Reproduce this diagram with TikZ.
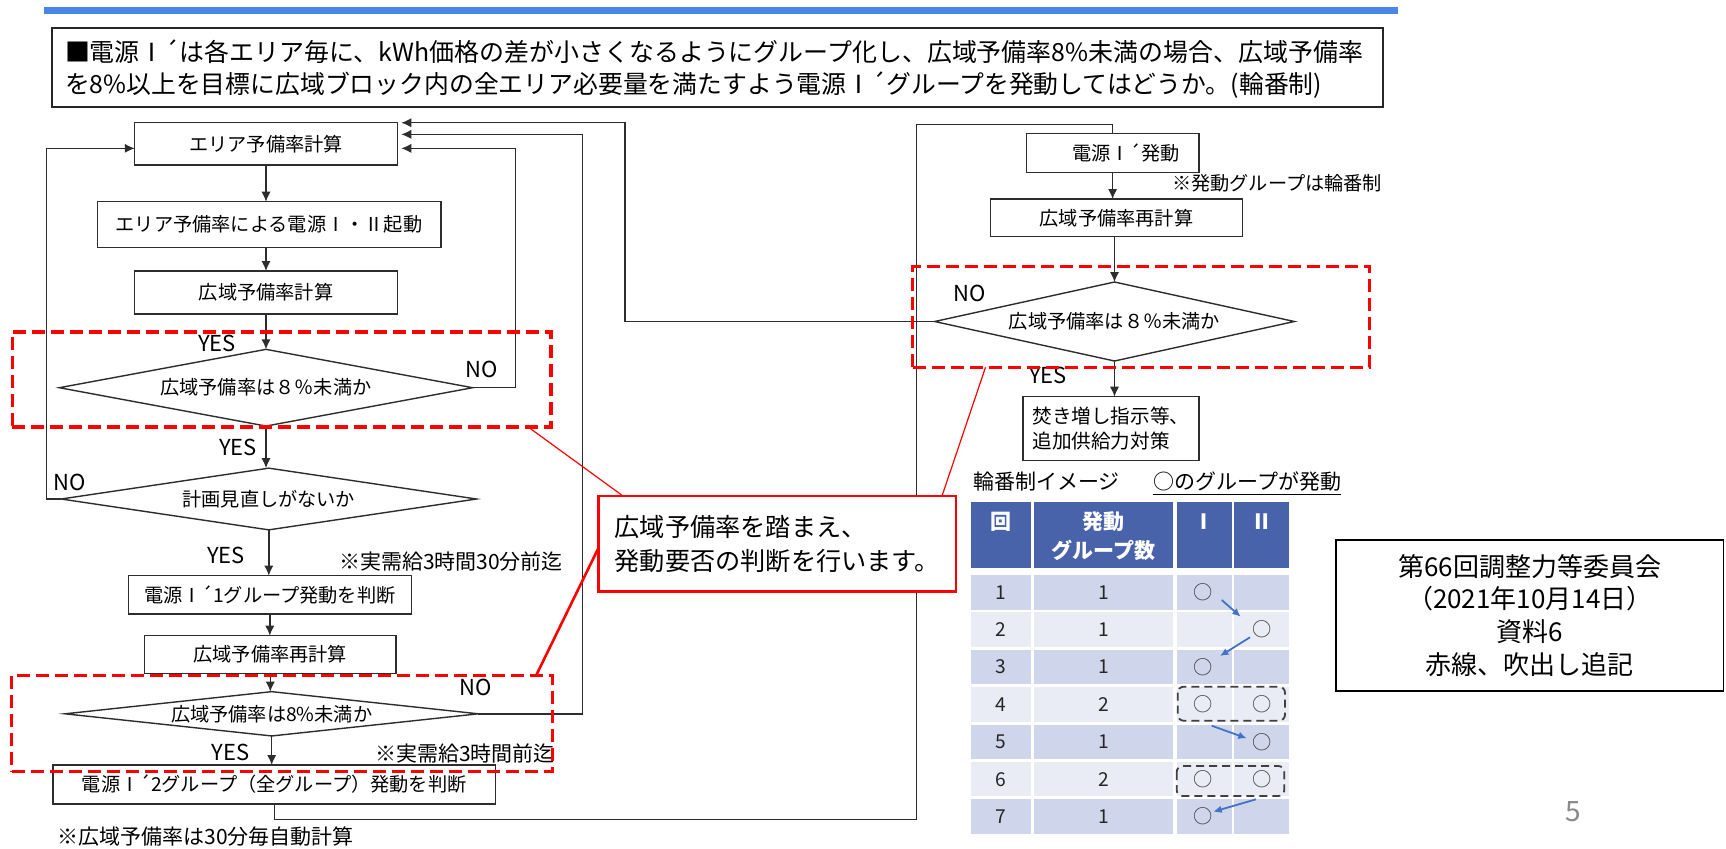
\documentclass[tikz,border=0pt]{standalone}
\usepackage{fontspec}
\usepackage{graphicx}
\setmainfont{Noto Sans CJK JP}
\usetikzlibrary{shapes.geometric,arrows.meta,calc}
\definecolor{barblue}{RGB}{74,134,232}
\definecolor{hdrblue}{RGB}{73,99,170}
\definecolor{rowdark}{RGB}{207,213,234}
\definecolor{rowlight}{RGB}{233,235,245}
\definecolor{arrblue}{RGB}{68,114,196}
\definecolor{linegray}{RGB}{45,45,45}
\definecolor{redline}{RGB}{255,0,0}
\definecolor{pagegray}{RGB}{137,137,137}
\newcommand\fTitle{\fontsize{12.5pt}{15pt}\selectfont}
\newcommand\fBox{\fontsize{9.6pt}{12pt}\selectfont}
\newcommand\fYN{\fontsize{11pt}{13pt}\selectfont}
\newcommand\fNote{\fontsize{10.5pt}{13pt}\selectfont}
\newcommand\fTbl{\fontsize{9.6pt}{12pt}\selectfont}
\newcommand\fHdr{\fontsize{10.5pt}{13pt}\selectfont\bfseries}
\newcommand\fCall{\fontsize{12.6pt}{16.85pt}\selectfont}
\newcommand\fInfo{\fontsize{13pt}{16.4pt}\selectfont}
\begin{document}
\begin{tikzpicture}[x=0.5pt,y=-0.5pt,
  every node/.style={inner sep=0pt, outer sep=0pt},
  wh/.style 2 args={minimum width=#1*0.5pt, minimum height=#2*0.5pt},
  fbox/.style={draw=linegray, line width=0.7pt, rectangle, font=\fBox},
  dia/.style={draw=linegray, line width=0.7pt, diamond, font=\fBox},
  flow/.style={draw=linegray, line width=0.7pt},
  arr/.style={flow, -{Latex[length=5pt,width=4.6pt]}},
  yn/.style={font=\fYN},
  note/.style={anchor=west, font=\fNote},
  reddash/.style={draw=redline, line width=1.6pt, dash pattern=on 6.5pt off 3pt},
  redthin/.style={draw=redline, line width=0.6pt},
  redthick/.style={draw=redline, line width=1.3pt},
  num/.style={font=\fTbl, text=black!85},
  circ/.style={font=\fTbl, text=black!75},
  hdr/.style={font=\fHdr, text=white},
  barr/.style={draw=arrblue, line width=0.9pt, -{Latex[length=4.2pt,width=3.8pt]}},
  grp/.style={draw=black!75, line width=0.9pt, dash pattern=on 4pt off 2.5pt, rounded corners=3pt}
]
\useasboundingbox (0,0) rectangle (1726,848);
\fill[white] (0,0) rectangle (1726,848);

% top bar and title
\fill[barblue] (44,6.5) rectangle (1398,14);
\node[draw=black!85, line width=1pt, wh={1331.3}{79}] (titlebox) at (717.35,67.8) {};
\node[anchor=west, font=\fTitle] (t1) at (65,51.7) {\resizebox{649pt}{\height}{■電源Ⅰ´は各エリア毎に、kWh価格の差が小さくなるようにグループ化し、広域予備率8\%未満の場合、広域予備率}};
\node[anchor=west, font=\fTitle] (t2) at (65,85) {\resizebox{628.5pt}{\height}{を8\%以上を目標に広域ブロック内の全エリア必要量を満たすよう電源Ⅰ´グループを発動してはどうか。(輪番制)}};

% left flowchart
\node[fbox, wh={262.5}{42.7}] (A) at (266,143.7) {エリア予備率計算};
\node[fbox, wh={343.6}{46}] (B) at (269,224.7) {エリア予備率による電源Ⅰ・Ⅱ起動};
\node[fbox, wh={262.5}{43}] (C) at (266,292.5) {広域予備率計算};
\node[dia, wh={413.3}{76.7}, aspect=5.39] (D1) at (266,387.7) {広域予備率は８％未満か};
\node[dia, wh={415.3}{61.7}, aspect=6.73] (D2) at (268.8,499) {計画見直しがないか};
\node[fbox, wh={283.2}{38.3}] (E1) at (269.8,594.8) {電源Ⅰ´1グループ発動を判断};
\node[fbox, wh={251.3}{37.6}] (F) at (270.3,654.5) {広域予備率再計算};
\node[dia, wh={413.4}{44.3}, aspect=9.33] (D3) at (271.7,713.8) {広域予備率は8\%未満か};
\node[fbox, wh={442.8}{39}] (E2) at (274.2,784.5) {電源Ⅰ´2グループ（全グループ）発動を判断};

% right flowchart
\node[fbox, wh={172.5}{39}] (G) at (1112.65,152.8) {\hspace*{13.4pt}電源Ⅰ´発動};
\node[fbox, wh={251.5}{37.7}] (H) at (1116.5,217.9) {広域予備率再計算};
\node[dia, wh={359.7}{79}, aspect=4.55] (D4) at (1114.5,321.5) {広域予備率は８％未満か};
\node[fbox, wh={176}{64}, align=left, font=\fontsize{9.8pt}{12.5pt}\selectfont] (I) at (1110.9,428.7) {焚き増し指示等、\\追加供給力対策};

% vertical arrows
\draw[arr] (A.south) -- (A.south |- B.north);
\draw[arr] (B.south -| A.south) -- (A.south |- C.north);
\draw[arr] (C.south) -- (D1.north);
\draw[arr] (D1.south) -- (D1.south |- D2.north);
\draw[arr] (D2.south) -- (D2.south |- E1.north);
\draw[arr] (E1.south) -- (E1.south |- F.north);
\draw[arr] (F.south) -- (F.south |- D3.north);
\draw[arr] (D3.south) -- (D3.south |- E2.north);
\draw[arr] (G.south) -- (G.south |- H.north);
\draw[arr] (D4.north |- H.south) -- (D4.north);
\draw[arr] (D4.south) -- (D4.south |- I.north);

% loop connectors
\coordinate (Ain1) at ($(A.north east)+(4,0.4)$);
\coordinate (Ain2) at ($(A.north east)+(4,12)$);
\coordinate (Ain3) at ($(A.north east)+(4,26)$);
\coordinate (Ainl) at ($(A.north west)+(0,26)$);
\draw[arr] (D2.west) -- ++(-14.5,0) |- (Ainl);
\draw[arr] (D1.east) -- ++(42.9,0) |- (Ain3);
\draw[arr] (D3.east) -- ++(104,0) |- (Ain2);
\draw[arr] (D4.west) -- ++(-309.6,0) |- (Ain1);
\coordinate (loopTR) at (916.7,124.3);
\draw[flow] (E2.south) -- ++(0,15.5) -| (loopTR) -| (G.north);

% labels
\node[yn] (y1) at (217,343.4) {YES};
\node[yn] (n1) at (482,369) {NO};
\node[yn] (y2) at (238,447) {YES};
\node[yn] (n2) at (70,482) {NO};
\node[yn] (y3) at (226,555) {YES};
\node[yn] (n3) at (476,687.6) {NO};
\node[yn] (y4) at (230.6,752.5) {YES};
\node[yn] (n4) at (970,293) {NO};
\node[yn] (y5) at (1048,375) {YES};
\node[note] (note1) at (339,562) {※実需給3時間30分前迄};
\node[note] (note2) at (375,753) {※実需給3時間前迄};
\node[note] (note3) at (57.4,837) {※広域予備率は30分毎自動計算};
\node[note, font=\fBox] (note4) at (1172,183.5) {※発動グループは輪番制};

% table
\node[anchor=west, font=\fNote] (tbl1) at (973.3,481.7) {輪番制イメージ};
\node[anchor=west, font=\fNote] (tbl2) at (1153.3,481.7) {○のグループが発動};
\draw[line width=0.6pt] ($(tbl2.south west)+(0,3)$) -- ($(tbl2.south east)+(0,3)$);
\fill[hdrblue] (970.7,501.7) rectangle (1031,568.3);
\fill[hdrblue] (1034,501.7) rectangle (1173.3,568.3);
\fill[hdrblue] (1176.7,501.7) rectangle (1231.7,568.3);
\fill[hdrblue] (1234.3,501.7) rectangle (1289.3,568.3);
\node[hdr] (h1) at (1000.8,521.7) {回};
\node[hdr] (h2a) at (1103.7,521.7) {発動};
\node[hdr] (h2b) at (1103.7,550) {グループ数};
\node[hdr] (h3) at (1204.2,521.7) {Ⅰ};
\node[hdr] (h4) at (1261.8,521.7) {Ⅱ};
\foreach \i/\g in {1/1,2/1,3/1,4/2,5/1,6/2,7/1} {
  \pgfmathsetmacro{\rt}{575+37.38*(\i-1)}
  \pgfmathsetmacro{\rb}{\rt+34.5}
  \pgfmathsetmacro{\rc}{\rt+17.25}
  \ifodd\i \def\rowcol{rowdark}\else\def\rowcol{rowlight}\fi
  \fill[\rowcol] (970.7,\rt) rectangle (1031,\rb);
  \fill[\rowcol] (1034,\rt) rectangle (1173.3,\rb);
  \fill[\rowcol] (1176.7,\rt) rectangle (1231.7,\rb);
  \fill[\rowcol] (1234.3,\rt) rectangle (1289.3,\rb);
  \node[num] (rn\i) at (1000.8,\rc) {\i};
  \node[num] (rg\i) at (1103.7,\rc) {\g};
}
\node[circ] (c1) at (1203.3,592.25) {○};
\node[circ] (c2) at (1261.7,629.63) {○};
\node[circ] (c3) at (1203.3,667.01) {○};
\node[circ] (c4a) at (1203.3,704.39) {○};
\node[circ] (c4b) at (1261.7,704.39) {○};
\node[circ] (c5) at (1261.7,741.77) {○};
\node[circ] (c6a) at (1203.3,779.15) {○};
\node[circ] (c6b) at (1261.7,779.15) {○};
\node[circ] (c7) at (1203.3,816.53) {○};
\draw[grp] (1177.7,686.7) rectangle (1285,720.7);
\draw[grp] (1176.7,766) rectangle (1284.3,796);
\coordinate (ba1) at (1221.7,600); \coordinate (bb1) at (1240.7,616.7);
\coordinate (ba2) at (1250,637.3); \coordinate (bb2) at (1220,656);
\coordinate (ba3) at (1211.7,725.7); \coordinate (bb3) at (1246.7,738.3);
\coordinate (ba4) at (1256,799.3); \coordinate (bb4) at (1213.3,811.7);
\draw[barr] (ba1) -- (bb1);
\draw[barr] (ba2) -- (bb2);
\draw[barr] (ba3) -- (bb3);
\draw[barr] (ba4) -- (bb4);

% red annotations
\node[reddash, wh={538.8}{95}] (R1) at (281.6,379.5) {};
\node[reddash, wh={457.1}{100.6}] (R2) at (1141.25,317) {};
\node[reddash, wh={540.7}{96}] (R3) at (281.85,723.7) {};
\coordinate (r1p) at ($(R1.south west)+(516,0)$);
\coordinate (r2p) at ($(R2.south west)+(72.8,0)$);
\coordinate (r3p) at ($(R3.north west)+(524.5,0)$);
\draw[redthin] (r1p) -- (623,496);
\draw[redthin] (r2p) -- (942,496);
\draw[redthick] (r3p) -- (598.3,548.3);
\node[draw=redline, line width=1.3pt, fill=white, wh={357.7}{95.7}, align=left, font=\fCall] (callout) at (777.2,543.9) {広域予備率を踏まえ、\\発動要否の判断を行います。};

% info box and page number
\node[draw=black, line width=0.9pt, wh={387.5}{151}, align=center, font=\fInfo] (info) at (1529.75,615.5) {第66回調整力等委員会\\（2021年10月14日）\\資料6\\赤線、吹出し追記};
\node[font=\fontsize{14pt}{16pt}\selectfont, text=pagegray] (page) at (1573.7,811.7) {5};
\end{tikzpicture}
\end{document}
